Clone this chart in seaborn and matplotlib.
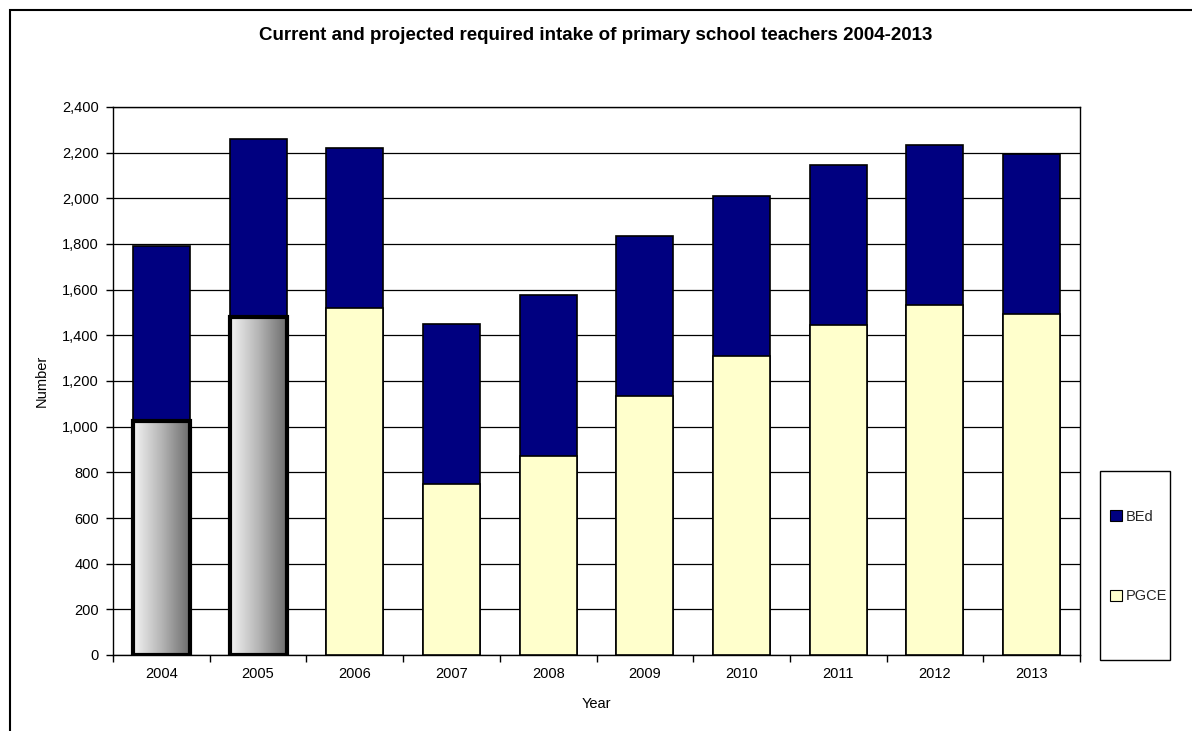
import numpy as np
import pandas as pd
import matplotlib
matplotlib.use("Agg")
import matplotlib.pyplot as plt
import seaborn as sns
from matplotlib.patches import Patch, Rectangle
from matplotlib.ticker import FuncFormatter
from matplotlib.colors import LinearSegmentedColormap

# Intake figures by year (2004-2005 recorded, 2006 onwards projected)
years = ["2004", "2005", "2006", "2007", "2008", "2009", "2010", "2011", "2012", "2013"]
pgce = [1025, 1480, 1520, 750, 870, 1135, 1310, 1445, 1535, 1495]
bed = [765, 780, 700, 700, 705, 700, 700, 700, 700, 700]
recorded_years = ["2004", "2005"]
series_names = ["BEd", "PGCE"]

NAVY = "#000080"
CREAM = "#FFFFCC"

sns.set_theme(style="white")
plt.rcParams["font.family"] = ["Liberation Sans", "DejaVu Sans"]

df = pd.DataFrame({"Year": years, "PGCE": pgce, "BEd": bed})
df["Total"] = df["PGCE"] + df["BEd"]

W, H = 1192, 731
fig = plt.figure(figsize=(W / 100, H / 100), dpi=100)
ax = fig.add_axes([113 / W, 1 - 655 / H, (1080 - 113) / W, (655 - 107) / H])

# Stacked bars: full total in navy, PGCE share drawn over it
sns.barplot(data=df, x="Year", y="Total", color=NAVY, saturation=1,
            edgecolor="black", linewidth=1.2, width=0.59, ax=ax, zorder=3)
sns.barplot(data=df, x="Year", y="PGCE", color=CREAM, saturation=1,
            edgecolor="black", linewidth=1.2, width=0.59, ax=ax, zorder=3)

n = len(years)
pgce_patches = ax.patches[n:2 * n]

# Recorded years get a grey horizontal gradient with a heavy outline
grad_cmap = LinearSegmentedColormap.from_list("steel", ["#F4F4F4", "#B4B4B4", "#6A6A6A"])
grad = np.linspace(0, 1, 256).reshape(1, -1)
for i, yr in enumerate(years):
    if yr in recorded_years:
        p = pgce_patches[i]
        x0, y0, w, h = p.get_x(), p.get_y(), p.get_width(), p.get_height()
        ax.imshow(grad, extent=[x0, x0 + w, y0, y0 + h], aspect="auto",
                  cmap=grad_cmap, zorder=3.5, interpolation="bilinear")
        p.set_facecolor("none")
        p.set_linewidth(3.0)
        p.set_zorder(4)

ax.set_xlim(-0.5, n - 0.5)
ax.set_ylim(0, 2400)
ax.set_aspect("auto")

# Y axis
ax.set_yticks(np.arange(0, 2401, 200))
ax.yaxis.set_major_formatter(FuncFormatter(lambda v, _: f"{v:,.0f}"))
ax.set_axisbelow(True)
ax.yaxis.grid(True, color="black", linewidth=0.9)
ax.xaxis.grid(False)

# X axis: tick marks between categories, labels centred under bars
ax.set_xticks(np.arange(-0.5, n, 1.0))
ax.set_xticklabels([""] * (n + 1))
ax.set_xticks(np.arange(n), minor=True)
ax.set_xticklabels(years, minor=True)
ax.tick_params(axis="x", which="major", direction="out", length=5, width=1, color="black", bottom=True)
ax.tick_params(axis="x", which="minor", length=0, pad=9, labelsize=10.5, labelcolor="black")
ax.tick_params(axis="y", direction="out", length=5, width=1, color="black", left=True,
               labelsize=10.5, labelcolor="black", pad=5)

for side, s in ax.spines.items():
    s.set_visible(True)
    s.set_color("black")
    s.set_linewidth(1.0)

ax.set_xlabel("Year", fontsize=10.5, color="black")
ax.set_ylabel("Number", fontsize=10.5, color="black")
ax.xaxis.set_label_coords(0.5, -(697 - 655) / 548)
ax.yaxis.set_label_coords(-(113 - 49) / 967, 0.5)

fig.text(0.5, 1 - 36 / H,
         "Current and projected required intake of primary school teachers 2004-2013",
         ha="center", va="center", fontsize=13.5, fontweight="bold", color="black")

# Chart frame (extends past the right and bottom edges)
fig.add_artist(Rectangle((10 / W, -0.05), 1.1, 1 - 10 / H + 0.05,
                         transform=fig.transFigure, fill=False, lw=1.5, ec="black"))

# Legend with its own boxed frame
fig.add_artist(Rectangle((1100 / W, 1 - 660 / H), 70 / W, 189 / H,
                         transform=fig.transFigure, fill=False, lw=1.0, ec="black"))
handles = [Patch(facecolor=NAVY, edgecolor="black", lw=0.8),
           Patch(facecolor=CREAM, edgecolor="black", lw=0.8)]
fig.legend(handles, series_names, loc="center left",
           bbox_to_anchor=(1103 / W, 1 - 556.5 / H), frameon=False,
           labelspacing=4.5, handlelength=0.8, handleheight=0.8,
           handletextpad=0.25, borderpad=0, fontsize=10.5)

fig.savefig("out.png", dpi=100)
